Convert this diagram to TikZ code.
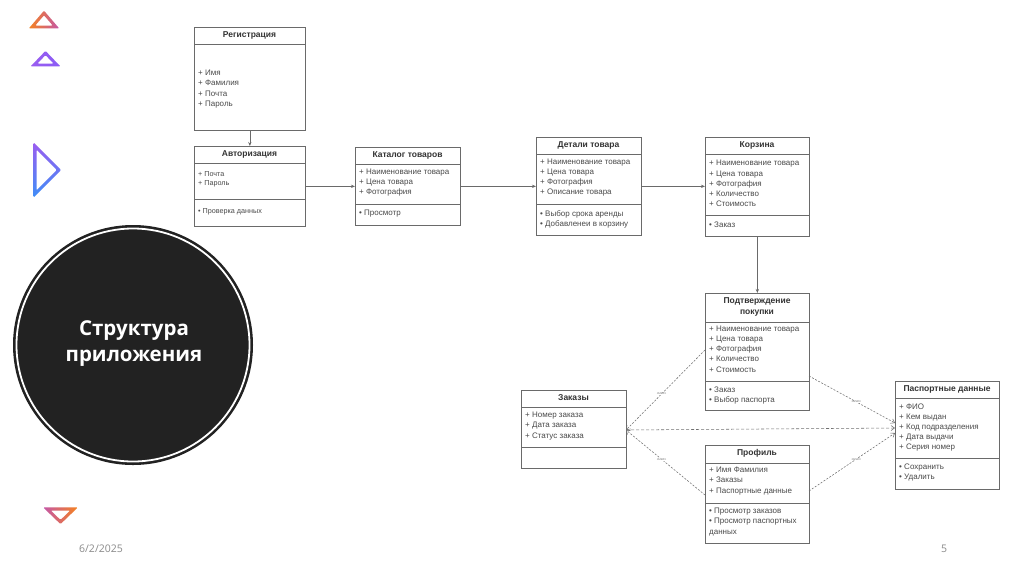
\documentclass[tikz,border=0pt]{standalone}
\usepackage{fontspec}
\setmainfont{Liberation Sans}
\newfontfamily\titlefont{Open Sans}
\usetikzlibrary{arrows.meta,calc}
\definecolor{boxline}{HTML}{6A6A6A}
\definecolor{txtc}{HTML}{4A4A4A}
\definecolor{ttlc}{HTML}{333333}
\definecolor{depc}{HTML}{707070}
\definecolor{circ}{HTML}{222222}
\definecolor{datec}{HTML}{8A8A8A}
\definecolor{triOr}{HTML}{F5821F}
\definecolor{triPk}{HTML}{C457A8}
\definecolor{triPu}{HTML}{8A5CF5}
\definecolor{triPu2}{HTML}{9B5DF0}
\definecolor{triBl}{HTML}{3E8EF7}
\tikzset{
  box/.style={draw=boxline, line width=0.7pt, inner sep=0pt, anchor=north west},
  ttl/.style={font=\fontsize{8.5}{10.5}\selectfont\bfseries, text=ttlc, inner sep=0pt, align=center},
  attr/.style={font=\fontsize{8}{10.2}\selectfont, text=txtc, inner sep=0pt, anchor=west, align=left},
  sattr/.style={font=\fontsize{7.2}{9.2}\selectfont, text=txtc, inner sep=0pt, anchor=west, align=left},
  divline/.style={draw=boxline, line width=0.6pt},
  arr/.style={draw=boxline, line width=0.6pt, -{Stealth[length=4pt,width=3.2pt]}},
  dep/.style={draw=depc, line width=0.55pt, dash pattern=on 2pt off 1.5pt, -{Straight Barb[length=3.5pt,width=5pt]}},
  lbl/.style={font=\fontsize{3.5}{4}\selectfont, text=depc, fill=white, inner sep=0.4pt},
}
\begin{document}
\begin{tikzpicture}[x=1pt,y=-1pt]
\useasboundingbox (0,0) rectangle (1024,574);
\fill[white] (0,0) rectangle (1024,574);

% decorative triangles
\coordinate (t1a) at (32,27); \coordinate (t1b) at (56,27); \coordinate (t1t) at (44,13); \coordinate (t1c) at (44,21.5);
\shade[left color=triOr, right color=triPk, even odd rule, rounded corners=1pt]
 ($(t1c)!1.27!(t1a)$) -- ($(t1c)!1.27!(t1b)$) -- ($(t1c)!1.27!(t1t)$) -- cycle
 ($(t1c)!0.73!(t1a)$) -- ($(t1c)!0.73!(t1b)$) -- ($(t1c)!0.73!(t1t)$) -- cycle;
\coordinate (t2a) at (34,65); \coordinate (t2b) at (57,65); \coordinate (t2t) at (45.5,53); \coordinate (t2c) at (45.5,60.1);
\shade[left color=triPu2, right color=triPu, even odd rule, rounded corners=1pt]
 ($(t2c)!1.3!(t2a)$) -- ($(t2c)!1.3!(t2b)$) -- ($(t2c)!1.3!(t2t)$) -- cycle
 ($(t2c)!0.7!(t2a)$) -- ($(t2c)!0.7!(t2b)$) -- ($(t2c)!0.7!(t2t)$) -- cycle;
\coordinate (t3a) at (35,146); \coordinate (t3b) at (35,194); \coordinate (t3t) at (59,170); \coordinate (t3c) at (45,170);
\shade[top color=triPu2, bottom color=triBl, even odd rule, rounded corners=1pt]
 ($(t3c)!1.15!(t3a)$) -- ($(t3c)!1.15!(t3b)$) -- ($(t3c)!1.15!(t3t)$) -- cycle
 ($(t3c)!0.85!(t3a)$) -- ($(t3c)!0.85!(t3b)$) -- ($(t3c)!0.85!(t3t)$) -- cycle;
\coordinate (t4a) at (47,509); \coordinate (t4b) at (74,509); \coordinate (t4t) at (60.5,522); \coordinate (t4c) at (60.5,514.5);
\shade[left color=triPk, right color=triOr, even odd rule, rounded corners=1pt]
 ($(t4c)!1.28!(t4a)$) -- ($(t4c)!1.28!(t4b)$) -- ($(t4c)!1.28!(t4t)$) -- cycle
 ($(t4c)!0.72!(t4a)$) -- ($(t4c)!0.72!(t4b)$) -- ($(t4c)!0.72!(t4t)$) -- cycle;

% circle
\coordinate (cc) at (133,345);
\fill[circ] (cc) circle (120);
\draw[white, line width=1.8pt] (cc) circle (116.5);
\node[text=white, font=\titlefont\bfseries\fontsize{20.5}{26}\selectfont, align=center] (ctitle) at (134,344) {Структура\\приложения};

% footer
\node[text=datec, font=\titlefont\fontsize{10.5}{12}\selectfont] (date) at (101,549) {6/2/2025};
\node[text=datec, font=\titlefont\fontsize{10.5}{12}\selectfont] (pnum) at (944,549) {5};

% Регистрация
\node[box, minimum width=111, minimum height=103] (reg) at (194,27) {};
\node[ttl] (regT) at (249.5,35.5) {Регистрация};
\draw[divline] ($(reg.north west)+(0,17)$) -- ($(reg.north east)+(0,17)$);
\node[attr] (regA) at (198,89) {+ Имя\\+ Фамилия\\+ Почта\\+ Пароль};

% Авторизация
\node[box, minimum width=111, minimum height=80] (auth) at (194,146) {};
\node[ttl] (authT) at (249.5,154.5) {Авторизация};
\draw[divline] ($(auth.north west)+(0,17)$) -- ($(auth.north east)+(0,17)$);
\draw[divline] ($(auth.north west)+(0,53)$) -- ($(auth.north east)+(0,53)$);
\node[sattr] (authA) at (198,179.5) {+ Почта\\+ Пароль};
\node[sattr] (authM) at (198,212) {• Проверка данных};

% Каталог товаров
\node[box, minimum width=105, minimum height=78] (cat) at (355,147) {};
\node[ttl] (catT) at (407.5,155.5) {Каталог товаров};
\draw[divline] ($(cat.north west)+(0,17)$) -- ($(cat.north east)+(0,17)$);
\draw[divline] ($(cat.north west)+(0,57)$) -- ($(cat.north east)+(0,57)$);
\node[attr] (catA) at (359,182.5) {+ Наименование товара\\+ Цена товара\\+ Фотография};
\node[attr] (catM) at (359,214) {• Просмотр};

% Детали товара
\node[box, minimum width=105, minimum height=98] (det) at (536,137) {};
\node[ttl] (detT) at (588.5,145) {Детали товара};
\draw[divline] ($(det.north west)+(0,17)$) -- ($(det.north east)+(0,17)$);
\draw[divline] ($(det.north west)+(0,67)$) -- ($(det.north east)+(0,67)$);
\node[attr] (detA) at (540,177.5) {+ Наименование товара\\+ Цена товара\\+ Фотография\\+ Описание товара};
\node[attr] (detM) at (540,219) {• Выбор срока аренды\\• Добавленеи в корзину};

% Корзина
\node[box, minimum width=104, minimum height=99] (kor) at (705,137) {};
\node[ttl] (korT) at (757,145) {Корзина};
\draw[divline] ($(kor.north west)+(0,17)$) -- ($(kor.north east)+(0,17)$);
\draw[divline] ($(kor.north west)+(0,78)$) -- ($(kor.north east)+(0,78)$);
\node[attr] (korA) at (709,183.5) {+ Наименование товара\\+ Цена товара\\+ Фотография\\+ Количество\\+ Стоимость};
\node[attr] (korM) at (709,225) {• Заказ};

% Подтверждение покупки
\node[box, minimum width=104, minimum height=117] (pod) at (705,293) {};
\node[ttl, font=\fontsize{8.5}{11}\selectfont\bfseries] (podT) at (757,306.5) {Подтверждение\\покупки};
\draw[divline] ($(pod.north west)+(0,29)$) -- ($(pod.north east)+(0,29)$);
\draw[divline] ($(pod.north west)+(0,88)$) -- ($(pod.north east)+(0,88)$);
\node[attr] (podA) at (709,349) {+ Наименование товара\\+ Цена товара\\+ Фотография\\+ Количество\\+ Стоимость};
\node[attr] (podM) at (709,395.5) {• Заказ\\• Выбор паспорта};

% Заказы
\node[box, minimum width=105, minimum height=78] (zak) at (521,390) {};
\node[ttl] (zakT) at (573.5,398) {Заказы};
\draw[divline] ($(zak.north west)+(0,17)$) -- ($(zak.north east)+(0,17)$);
\draw[divline] ($(zak.north west)+(0,57)$) -- ($(zak.north east)+(0,57)$);
\node[attr] (zakA) at (525,426) {+ Номер заказа\\+ Дата заказа\\+ Статус заказа};

% Профиль
\node[box, minimum width=104, minimum height=98] (prof) at (705,445) {};
\node[ttl] (profT) at (757,453) {Профиль};
\draw[divline] ($(prof.north west)+(0,18)$) -- ($(prof.north east)+(0,18)$);
\draw[divline] ($(prof.north west)+(0,58)$) -- ($(prof.north east)+(0,58)$);
\node[attr] (profA) at (709,481) {+ Имя Фамилия\\+ Заказы\\+ Паспортные данные};
\node[attr] (profM) at (709,522) {• Просмотр заказов\\• Просмотр паспортных\\данных};

% Паспортные данные
\node[box, minimum width=104, minimum height=108] (pas) at (895,381) {};
\node[ttl] (pasT) at (947,389) {Паспортные данные};
\draw[divline] ($(pas.north west)+(0,17)$) -- ($(pas.north east)+(0,17)$);
\draw[divline] ($(pas.north west)+(0,77)$) -- ($(pas.north east)+(0,77)$);
\node[attr] (pasA) at (899,427.5) {+ ФИО\\+ Кем выдан\\+ Код подразделения\\+ Дата выдачи\\+ Серия номер};
\node[attr] (pasM) at (899,472.5) {• Сохранить\\• Удалить};

% solid arrows
\draw[arr] (reg.south) -- (auth.north);
\draw[arr] (auth.east) -- (auth.east -| cat.west);
\draw[arr] (cat.east) -- (cat.east -| det.west);
\draw[arr] (det.east) -- (det.east -| kor.west);
\draw[arr] (kor.south) -- (pod.north);

% dependency connectors
\coordinate (zakE) at (626,430);
\coordinate (podW) at (705,350);
\coordinate (profW) at (705,495);
\coordinate (podE) at (809,376);
\coordinate (profE) at (809,491);
\coordinate (pasW1) at (895,423);
\coordinate (pasW2) at (895,428);
\coordinate (pasW3) at (895,433);
\draw[dep] (podW) -- node[lbl, pos=0.55] (l1) {«use»} (zakE);
\draw[dep] (profW) -- node[lbl, pos=0.55] (l2) {«use»} (zakE);
\draw[dep, dash pattern=on 3pt off 2pt] (zakE) -- (pasW2);
\draw[dep] (podE) -- node[lbl, pos=0.55] (l3) {«use»} (pasW1);
\draw[dep] (profE) -- node[lbl, pos=0.55] (l4) {«use»} (pasW3);
\end{tikzpicture}
\end{document}
